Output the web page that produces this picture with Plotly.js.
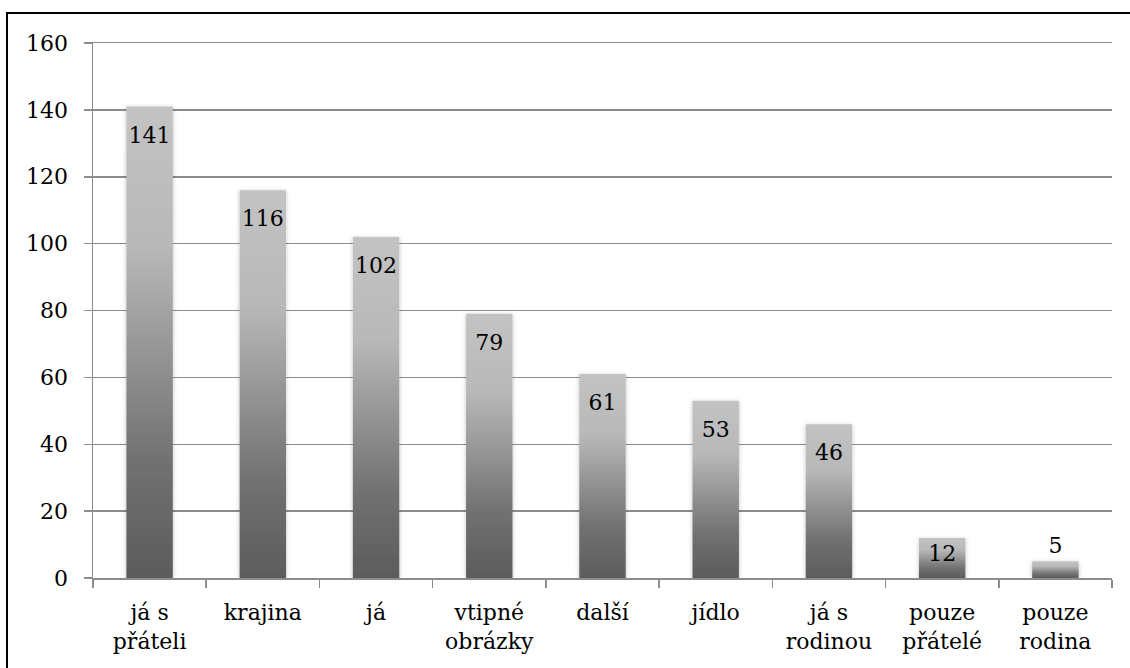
<!DOCTYPE html>
<html>
<head>
<meta charset="utf-8">
<script src="https://cdn.plot.ly/plotly-3.0.1.min.js"></script>
<style>
  html, body { margin: 0; padding: 0; background: #ffffff; overflow: hidden; }
  #wrap { position: relative; width: 1130px; height: 668px; }
  #chart { position: absolute; left: 0; top: 0; width: 1130px; height: 668px; }
  #frame { position: absolute; left: 6px; top: 12px; width: 1200px; height: 800px;
           border-left: 2px solid #000; border-top: 2px solid #000; pointer-events: none; }
</style>
</head>
<body>
<div id="wrap">
  <div id="chart"></div>
  <div id="frame"></div>
</div>
<script>
const categories = ['já s<br>přáteli', 'krajina', 'já', 'vtipné<br>obrázky', 'další', 'jídlo', 'já s<br>rodinou', 'pouze<br>přátelé', 'pouze<br>rodina'];
const values = [141, 116, 102, 79, 61, 53, 46, 12, 5];
const yTickValues = [0, 20, 40, 60, 80, 100, 120, 140, 160];
const yTickLabels = ['0', '20', '40', '60', '80', '100', '120', '140', '160'];

const FONT = 'DejaVu Serif, Liberation Serif, serif';
const GRID = '#8c8c8c';

const textPositions = values.map(v => (v < 10 ? 'outside' : 'inside'));

const trace = {
  type: 'bar',
  x: categories,
  y: values,
  text: values.map(String),
  textposition: textPositions,
  insidetextanchor: 'end',
  textangle: 0,
  constraintext: 'none',
  cliponaxis: false,
  textfont: { family: FONT, size: 22, color: '#000000' },
  insidetextfont: { family: FONT, size: 22, color: '#000000' },
  outsidetextfont: { family: FONT, size: 22, color: '#000000' },
  marker: { color: '#8a8a8a', line: { width: 0 } },
  hoverinfo: 'x+y'
};

const layout = {
  width: 1130,
  height: 668,
  margin: { l: 93, r: 18, t: 43, b: 90, pad: 0 },
  paper_bgcolor: '#ffffff',
  plot_bgcolor: '#ffffff',
  showlegend: false,
  bargap: 0.59,
  font: { family: FONT, size: 22, color: '#000000' },
  xaxis: {
    type: 'category',
    showgrid: false,
    showline: true,
    mirror: true,
    linecolor: GRID,
    linewidth: 1.5,
    ticks: 'outside',
    tickson: 'boundaries',
    ticklen: 8,
    tickwidth: 1.5,
    tickcolor: GRID,
    tickfont: { family: FONT, size: 22, color: '#000000' },
    ticklabelstandoff: 14,
    fixedrange: true
  },
  yaxis: {
    range: [0, 160],
    tickmode: 'array',
    tickvals: yTickValues,
    ticktext: yTickLabels,
    showgrid: true,
    gridcolor: GRID,
    gridwidth: 1.5,
    zeroline: false,
    showline: true,
    linecolor: GRID,
    linewidth: 1.5,
    ticks: 'outside',
    ticklen: 8,
    tickwidth: 1.5,
    tickcolor: GRID,
    tickfont: { family: FONT, size: 22, color: '#000000' },
    ticklabelstandoff: 11,
    fixedrange: true
  }
};

const gd = document.getElementById('chart');
Plotly.newPlot(gd, [trace], layout, { displayModeBar: false, staticPlot: true }).then(() => {
  const NS = 'http://www.w3.org/2000/svg';
  const svg = gd.querySelector('svg.main-svg');
  let defs = svg.querySelector('defs');
  if (!defs) { defs = document.createElementNS(NS, 'defs'); svg.insertBefore(defs, svg.firstChild); }
  const grad = document.createElementNS(NS, 'linearGradient');
  grad.setAttribute('id', 'barGrad');
  grad.setAttribute('x1', '0'); grad.setAttribute('y1', '0');
  grad.setAttribute('x2', '0'); grad.setAttribute('y2', '1');
  [['0', '#c3c3c3'], ['0.3', '#b8b8b8'], ['0.75', '#717171'], ['1', '#5c5c5c']].forEach(([o, c]) => {
    const s = document.createElementNS(NS, 'stop');
    s.setAttribute('offset', o); s.setAttribute('stop-color', c);
    grad.appendChild(s);
  });
  defs.appendChild(grad);
  const filt = document.createElementNS(NS, 'filter');
  filt.setAttribute('id', 'barShadow');
  filt.setAttribute('x', '-20%'); filt.setAttribute('y', '-20%');
  filt.setAttribute('width', '140%'); filt.setAttribute('height', '140%');
  const ds = document.createElementNS(NS, 'feDropShadow');
  ds.setAttribute('dx', '0'); ds.setAttribute('dy', '1');
  ds.setAttribute('stdDeviation', '2'); ds.setAttribute('flood-color', '#000');
  ds.setAttribute('flood-opacity', '0.25');
  filt.appendChild(ds);
  defs.appendChild(filt);
  gd.querySelectorAll('.barlayer .point').forEach(pt => {
    const p = pt.querySelector('path');
    if (!p) return;
    p.style.fill = 'url(#barGrad)';
    p.setAttribute('filter', 'url(#barShadow)');
    const t = pt.querySelector('text');
    const h = p.getBBox().height;
    if (t && h > 60) {
      const tr = t.getAttribute('transform') || '';
      t.setAttribute('transform', 'translate(0,13) ' + tr);
    }
  });
});
</script>
</body>
</html>
